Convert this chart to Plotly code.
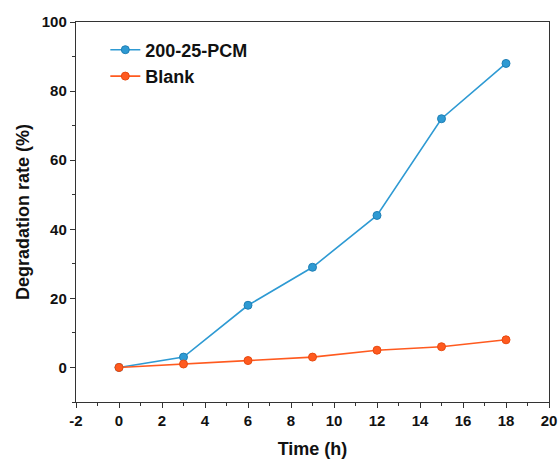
import plotly.graph_objects as go

time_h = [0, 3, 6, 9, 12, 15, 18]
pcm_values = [0, 3, 18, 29, 44, 72, 88]
blank_values = [0, 1, 2, 3, 5, 6, 8]
x_ticks = list(range(-2, 21, 2))
y_ticks = list(range(0, 101, 20))

blue = "#2E9AD3"
orange = "#FF5A1F"
FONT = "Liberation Sans, Arial"

fig = go.Figure()
fig.add_trace(go.Scatter(x=time_h, y=pcm_values, mode="lines+markers", name="200-25-PCM",
                         line=dict(color=blue, width=1.6),
                         marker=dict(color=blue, size=8, line=dict(color="#1f7fb5", width=1))))
fig.add_trace(go.Scatter(x=time_h, y=blank_values, mode="lines+markers", name="Blank",
                         line=dict(color=orange, width=1.6),
                         marker=dict(color=orange, size=8, line=dict(color="#e84a10", width=1))))

axis_font = dict(family=FONT, size=15, color="#111")
title_font = dict(size=18, family=FONT, color="#111")
fig.update_layout(
    width=558, height=459,
    margin=dict(l=76, r=9, t=22, b=57),
    plot_bgcolor="white", paper_bgcolor="white",
    font=dict(family=FONT, color="#111"),
    legend=dict(x=0.062, y=0.975, xanchor="left", yanchor="top",
                font=dict(size=18, family=FONT, color="#111", weight="bold"),
                bgcolor="rgba(0,0,0,0)", tracegroupgap=0),
    xaxis=dict(range=[-2, 20], tickvals=x_ticks, ticktext=[f"<b>{v}</b>" for v in x_ticks],
               automargin=False,
               showgrid=False, zeroline=False, showline=True, linecolor="#333", linewidth=1.4,
               mirror=True, ticks="outside", ticklen=5, tickcolor="#333", tickfont=axis_font,
               minor=dict(ticks="outside", ticklen=3, dtick=1, tickcolor="#333"),
               title=dict(text="<b>Time (h)</b>", font=title_font, standoff=16)),
    yaxis=dict(range=[-10, 100], tickvals=y_ticks, ticktext=[f"<b>{v}</b>" for v in y_ticks],
               automargin=False,
               showgrid=False, zeroline=False, showline=True, linecolor="#333", linewidth=1.4,
               mirror=True, ticks="outside", ticklen=5, tickcolor="#333", tickfont=axis_font,
               minor=dict(ticks="outside", ticklen=3, dtick=10, tickcolor="#333"),
               title=dict(text="<b>Degradation rate (%)</b>", font=title_font, standoff=7)),
)

fig.write_html("out.html", config={"displayModeBar": False},
               post_script="document.body.style.margin='0';document.body.style.overflow='hidden';")
